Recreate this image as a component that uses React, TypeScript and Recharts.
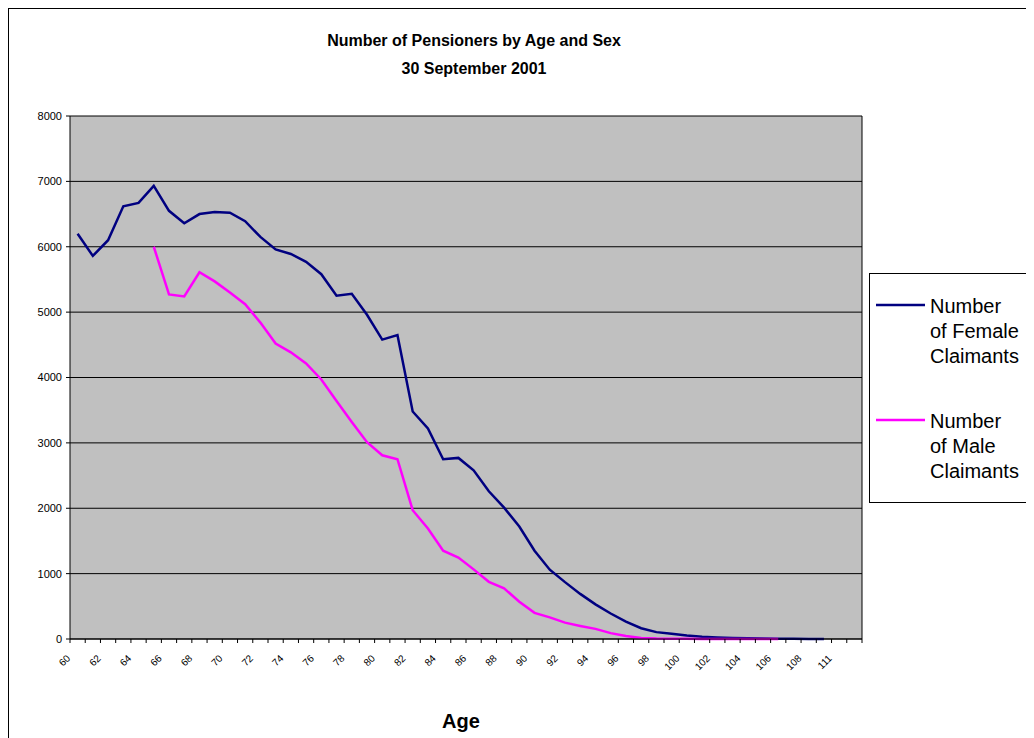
import { LineChart, Line, XAxis, YAxis, CartesianGrid, Legend } from 'recharts';

// ages 60..109, then 111 and a trailing empty category (as in the source sheet)
const ages = [
  '60', '61', '62', '63', '64', '65', '66', '67', '68', '69',
  '70', '71', '72', '73', '74', '75', '76', '77', '78', '79',
  '80', '81', '82', '83', '84', '85', '86', '87', '88', '89',
  '90', '91', '92', '93', '94', '95', '96', '97', '98', '99',
  '100', '101', '102', '103', '104', '105', '106', '107', '108', '109',
  '111', '',
];

const female = [
  6200, 5860, 6100, 6620, 6670, 6930, 6550, 6360, 6500, 6530,
  6520, 6390, 6150, 5960, 5890, 5770, 5580, 5250, 5280, 4960,
  4580, 4650, 3480, 3220, 2750, 2770, 2580, 2260, 2010, 1720,
  1350, 1060, 870, 690, 530, 390, 265, 165, 105, 80,
  55, 36, 24, 15, 10, 7, 4, 2, 1, 1,
  null, null,
];

const male = [
  null, null, null, null, null, 6000, 5270, 5240, 5610, 5470,
  5300, 5120, 4840, 4520, 4385, 4215, 3970, 3640, 3320, 3010,
  2810, 2750, 1970, 1690, 1350, 1245, 1065, 875, 775, 570,
  400, 330, 250, 200, 155, 90, 45, 15, 6, 3,
  2, 1, 1, 1, 0, 0, 0, null, null, null,
  null, null,
];

const yTicks = [0, 1000, 2000, 3000, 4000, 5000, 6000, 7000, 8000];

const data = ages.map((age, i) => ({ age, female: female[i], male: male[i] }));

const FONT = 'Arial, "Liberation Sans", sans-serif';
const PLOT_W = 792;
const HALF_BAND = PLOT_W / ages.length / 2;

// labels run up-right at 45 degrees, ending just below the tick mark;
// drawn along a diagonal path so no rotate() is needed
function AgeTick(props: any) {
  const { x, y, payload, index } = props;
  const left = x - HALF_BAND;
  const ex = left + 1;
  const ey = y + 20;
  const id = `age-lbl-${index}`;
  return (
    <g>
      <line x1={left} y1={y} x2={left} y2={y + 4} stroke="#000" />
      {index === ages.length - 1 && (
        <line x1={x + HALF_BAND} y1={y} x2={x + HALF_BAND} y2={y + 4} stroke="#000" />
      )}
      {index % 2 === 0 && (
        <>
          <defs>
            <path id={id} d={`M${ex - 40},${ey + 40} L${ex},${ey}`} />
          </defs>
          <text fontSize={10} fontFamily={FONT} fill="#000">
            <textPath href={`#${id}`} startOffset="100%" textAnchor="end">
              {payload.value}
            </textPath>
          </text>
        </>
      )}
    </g>
  );
}

function LegendBox({ payload }: any) {
  return (
    <div
      style={{
        width: 162,
        height: 230,
        boxSizing: 'border-box',
        border: '1px solid #000',
        background: '#fff',
        paddingTop: 20,
        fontFamily: FONT,
      }}
    >
      {(payload || []).map((p: any, i: number) => (
        <div key={i} style={{ display: 'flex', alignItems: 'flex-start', marginBottom: i === 0 ? 40 : 0 }}>
          <svg width={60} height={25} style={{ flex: 'none' }}>
            <line x1={6} x2={55} y1={11} y2={11} stroke={p.color} strokeWidth={2.5} />
          </svg>
          <div style={{ width: 91, fontSize: 20, lineHeight: '25px', color: '#000' }}>{p.value}</div>
        </div>
      ))}
    </div>
  );
}

export default function App() {
  return (
    <div
      style={{
        position: 'relative', width: 1025, height: 729,
        borderLeft: '1px solid #000', borderTop: '1px solid #000', fontFamily: FONT,
      }}
    >
      <style>{'body{overflow:hidden}'}</style>
      <div
        style={{
          position: 'absolute', left: 0, top: 18, width: 930, textAlign: 'center',
          fontSize: 16, fontWeight: 'bold', lineHeight: '28px', color: '#000', zIndex: 2,
        }}
      >
        Number of Pensioners by Age and Sex
        <br />
        30 September 2001
      </div>
      <div
        style={{
          position: 'absolute', left: 402, top: 700, width: 100, textAlign: 'center',
          fontSize: 20, fontWeight: 'bold', lineHeight: '24px', color: '#000', zIndex: 2,
        }}
      >
        Age
      </div>
      <LineChart width={1025} height={729} data={data} margin={{ top: 107, right: 171, bottom: 59, left: 0 }}>
        <CartesianGrid yAxisId="left" vertical={false} stroke="#000" fill="#c0c0c0" fillOpacity={1} />
        <XAxis
          dataKey="age"
          type="category"
          scale="band"
          interval={0}
          height={40}
          tickSize={0}
          tickMargin={0}
          tickLine={false}
          axisLine={{ stroke: '#000' }}
          tick={<AgeTick />}
        />
        <YAxis
          yAxisId="left"
          domain={[0, 8000]}
          ticks={yTicks}
          width={61}
          tickSize={4}
          tickMargin={4}
          axisLine={{ stroke: '#000' }}
          tickLine={{ stroke: '#000' }}
          tick={{ fontSize: 11, fill: '#000', fontFamily: FONT }}
        />
        <YAxis
          yAxisId="right"
          orientation="right"
          domain={[0, 8000]}
          width={1}
          tick={false}
          tickLine={false}
          axisLine={{ stroke: '#000' }}
        />
        <Legend
          layout="vertical"
          align="center"
          verticalAlign="middle"
          content={<LegendBox />}
          wrapperStyle={{ left: 860, top: 264, width: 162, height: 230 }}
        />
        <Line
          yAxisId="left"
          type="linear"
          dataKey="female"
          name="Number of Female Claimants"
          stroke="#000080"
          strokeWidth={2.5}
          dot={false}
          activeDot={false}
          isAnimationActive={false}
        />
        <Line
          yAxisId="left"
          type="linear"
          dataKey="male"
          name="Number of Male Claimants"
          stroke="#ff00ff"
          strokeWidth={2.5}
          dot={false}
          activeDot={false}
          isAnimationActive={false}
        />
      </LineChart>
    </div>
  );
}
